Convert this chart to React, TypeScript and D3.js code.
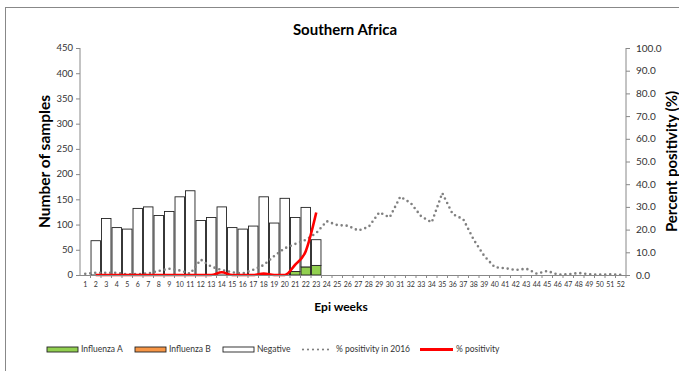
import React from "react";
import * as d3 from "d3";

// epi weeks 1..52
const weeks = d3.range(1, 53).map(String);

// samples per week (2017 so far, weeks 1-23)
const influenzaA = [0, 0, 0, 0, 0, 0, 0, 0, 0, 0, 0, 0, 0, 0, 0, 0, 0, 0, 0, 0, 7, 16, 19];
const influenzaB = [0, 0, 0, 0, 0, 0, 0, 0, 0, 0, 0, 0, 0, 0, 0, 0, 0, 0, 0, 0, 0, 0, 0];
const negative = [0, 68, 112, 94, 91, 132, 135, 118, 126, 155, 167, 108, 114, 135, 94, 91, 97, 155, 103, 152, 107, 118, 51];

// % positivity current season (weeks 2-23)
const positivity = [null, 0, 0, 0, 0, 0, 0, 0, 0, 0, 0, 0, 0, 1.2, 0, 0, 0, 0.6, 0, 0, 4.6, 10.5, 27.5];

// % positivity in 2016 (weeks 1-52)
const positivity2016 = [
  0.5, 1.0, 1.0, 1.0, 0.3, 0.4, 0.7, 1.8, 2.8, 2.0,
  0.6, 6.8, 3.7, 2.2, 1.2, 0.7, 2.3, 4.4, 8.4, 11.8,
  13.7, 15.5, 18.5, 23.7, 22.0, 21.7, 19.6, 21.2, 27.6, 25.4,
  34.5, 31.7, 25.8, 23.2, 36.1, 26.8, 24.6, 15.5, 8.4, 3.4,
  3.0, 2.2, 2.8, 0.6, 1.8, 0.2, 0.3, 0.9, 0.3, 0.2,
  0.3, 0.1,
];

const leftTicks = [0, 50, 100, 150, 200, 250, 300, 350, 400, 450];
const rightTicks = [0, 10, 20, 30, 40, 50, 60, 70, 80, 90, 100];

const W = 679;
const H = 371;
const margin = { top: 48, right: 53, bottom: 96, left: 80 };
const FONT = "Lato, 'Open Sans', sans-serif";

export default function App() {
  const x = d3.scaleBand().domain(weeks).range([margin.left, W - margin.right]).paddingInner(0.1).paddingOuter(0.05);
  const xc = (i: number) => margin.left + (i + 0.5) * ((W - margin.right - margin.left) / weeks.length);
  const yL = d3.scaleLinear().domain([0, 450]).range([H - margin.bottom, margin.top]);
  const yR = d3.scaleLinear().domain([0, 100]).range([H - margin.bottom, margin.top]);
  const y0 = H - margin.bottom;
  const x0 = margin.left;
  const x1 = W - margin.right;
  const step = (x1 - x0) / weeks.length;

  const stacked = d3.stack<number>().keys(["a", "b", "n"]).value((i, k) =>
    k === "a" ? influenzaA[i] : k === "b" ? influenzaB[i] : negative[i]
  )(d3.range(negative.length));
  const colors: Record<string, string> = { a: "#92D050", b: "#F79646", n: "#FFFFFF" };

  const line2016 = d3.line<number>().x((_, i) => xc(i)).y((d) => yR(d));
  const lineCur = d3
    .line<number | null>()
    .defined((d) => d !== null)
    .x((_, i) => xc(i))
    .y((d) => yR(d as number))
    .curve(d3.curveMonotoneX);

  const legend = [
    { x: 47, label: "Influenza A", kind: "box", color: "#92D050" },
    { x: 135, label: "Influenza B", kind: "box", color: "#F79646" },
    { x: 223, label: "Negative", kind: "box", color: "#FFFFFF" },
    { x: 302, label: "% positivity in 2016", kind: "dot", color: "#808080" },
    { x: 420, label: "% positivity", kind: "line", color: "#FF0000" },
  ];
  const ly = 349.5;

  return (
    <div style={{ position: "fixed", left: 0, top: 0 }}>
      <svg width={W} height={H} style={{ display: "block", background: "#fff" }} fontFamily={FONT}>
        <rect x={5.5} y={7.5} width={W + 10} height={H + 10} fill="#fff" stroke="#888" strokeWidth={1} />
        <text x={345} y={35} textAnchor="middle" fontSize={15} fontWeight="bold" fill="#000">
          Southern Africa
        </text>

        {/* bars */}
        {stacked.map((layer) =>
          layer.map((d, i) =>
            d[1] - d[0] > 0 ? (
              <rect
                key={layer.key + i}
                x={x(weeks[i])}
                y={yL(d[1])}
                width={x.bandwidth()}
                height={yL(d[0]) - yL(d[1])}
                fill={colors[layer.key]}
                stroke="#222"
                strokeWidth={0.9}
              />
            ) : null
          )
        )}

        {/* 2016 positivity */}
        <path
          d={line2016(positivity2016) || ""}
          fill="none"
          stroke="#808080"
          strokeWidth={2.6}
          strokeLinecap="round"
          strokeDasharray="0 5"
        />
        {/* current positivity */}
        <path d={lineCur(positivity) || ""} fill="none" stroke="#FF0000" strokeWidth={2.6} strokeLinejoin="round" />

        {/* left axis */}
        <line x1={x0} x2={x0} y1={yL(450)} y2={y0} stroke="#888" />
        {leftTicks.map((t) => (
          <g key={"l" + t}>
            <line x1={x0 - 4} x2={x0} y1={yL(t) + 0.5} y2={yL(t) + 0.5} stroke="#888" />
            <text x={x0 - 7} y={yL(t)} dy="0.35em" textAnchor="end" fontSize={9.5} fill="#333">
              {t}
            </text>
          </g>
        ))}
        <text
          transform={`translate(50,${(yL(0) + yL(450)) / 2}) rotate(-90)`}
          textAnchor="middle"
          fontSize={15.5}
          fontWeight="bold"
          fill="#000"
        >
          Number of samples
        </text>

        {/* right axis */}
        <line x1={x1} x2={x1} y1={yR(100)} y2={y0} stroke="#888" />
        {rightTicks.map((t) => (
          <g key={"r" + t}>
            <line x1={x1} x2={x1 + 4} y1={yR(t) + 0.5} y2={yR(t) + 0.5} stroke="#888" />
            <text x={x1 + 10} y={yR(t)} dy="0.35em" textAnchor="start" fontSize={10} fill="#333">
              {t.toFixed(1)}
            </text>
          </g>
        ))}
        <text
          transform={`translate(677,${(yR(0) + yR(100)) / 2}) rotate(-90)`}
          textAnchor="middle"
          fontSize={15}
          fontWeight="bold"
          fill="#000"
        >
          Percent positivity (%)
        </text>

        {/* x axis */}
        <line x1={x0} x2={x1} y1={y0 + 0.5} y2={y0 + 0.5} stroke="#888" />
        {weeks.map((w, i) => (
          <g key={"x" + w}>
            <line x1={x0 + (i + 1) * step} x2={x0 + (i + 1) * step} y1={y0} y2={y0 + 3} stroke="#888" />
            <text x={xc(i)} y={y0 + 12} textAnchor="middle" fontSize={7} fill="#333">
              {w}
            </text>
          </g>
        ))}
        <text x={341} y={311} textAnchor="middle" fontSize={12} fontWeight="bold" fill="#000">
          Epi weeks
        </text>

        {/* legend */}
        {legend.map((l) => (
          <g key={l.label}>
            {l.kind === "box" && (
              <rect x={l.x} y={ly - 2.5} width={31} height={5} fill={l.color} stroke="#222" strokeWidth={0.9} />
            )}
            {l.kind === "dot" && (
              <line
                x1={l.x + 1}
                x2={l.x + 31}
                y1={ly}
                y2={ly}
                stroke={l.color}
                strokeWidth={2.2}
                strokeLinecap="round"
                strokeDasharray="0 5"
              />
            )}
            {l.kind === "line" && <line x1={l.x} x2={l.x + 33} y1={ly} y2={ly} stroke={l.color} strokeWidth={3} />}
            <text x={l.x + (l.kind === "line" ? 36 : 34)} y={ly} dy="0.35em" fontSize={8.5} fill="#333">
              {l.label}
            </text>
          </g>
        ))}
      </svg>
    </div>
  );
}
